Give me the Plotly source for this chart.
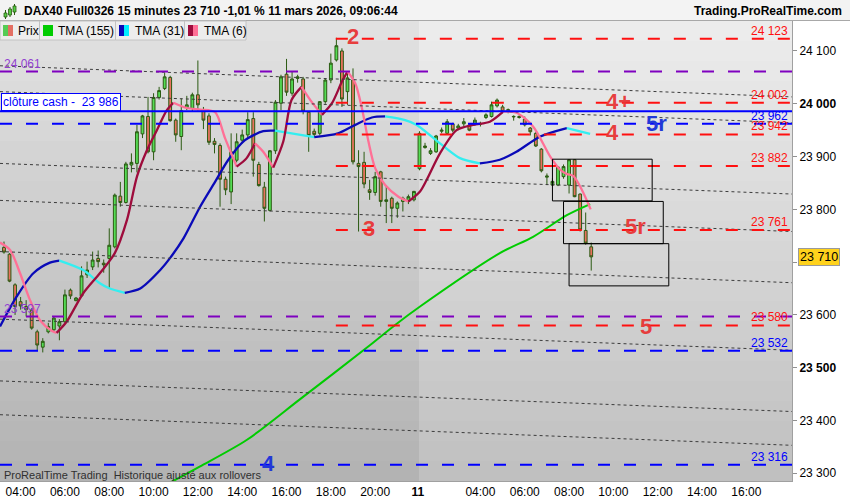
import plotly.graph_objects as go

# ---------------- data ----------------
bars = list(range(107))  # 15-minute bars, 10 Mar 03:15 .. 11 Mar 09:00
opens = [23728, 23715, 23657, 23625, 23616, 23609, 23568, 23539, 23568, 23572,
         23579, 23587, 23647, 23627, 23636, 23676, 23691, 23707, 23698, 23707,
         23729, 23825, 23813, 23884, 23887, 23943, 23976, 23909, 24012, 24029,
         24050, 23969, 23938, 23993, 23991, 24017, 23987, 23977, 23929, 23921,
         23857, 23833, 23893, 23931, 23941, 23972, 23885, 23842, 23798, 23911,
         24001, 24056, 24020, 24048, 24047, 23984, 23948, 23944, 24004, 24045,
         24083, 24100, 24023, 24045, 23887, 23889, 23837, 23832, 23871, 23815,
         23821, 23802, 23815, 23815, 23818, 23877, 23917, 23906, 23909, 23948,
         23944, 23962, 23954, 23962, 23960, 23963, 23962, 23974, 23976, 23996,
         23994, 23985, 23975, 23976, 23971, 23954, 23944, 23914, 23861, 23846,
         23846, 23862, 23846, 23894, 23829, 23760, 23729]
highs = [23739, 23717, 23660, 23634, 23628, 23613, 23572, 23556, 23585, 23598,
         23592, 23648, 23650, 23634, 23692, 23701, 23720, 23722, 23705, 23764,
         23830, 23852, 23890, 23906, 23960, 23979, 24013, 24020, 24032, 24059,
         24053, 23972, 24010, 24015, 24021, 24082, 23994, 23982, 23935, 23925,
         23862, 23944, 23944, 23951, 23984, 23984, 23890, 23852, 23912, 24007,
         24055, 24085, 24061, 24055, 24051, 23986, 23953, 24005, 24048, 24095,
         24125, 24105, 24061, 24067, 23912, 23909, 23856, 23871, 23873, 23846,
         23824, 23815, 23824, 23828, 23835, 23948, 23926, 23916, 23941, 23955,
         23971, 23964, 23962, 23973, 23963, 23974, 23966, 23982, 24004, 24010,
         23998, 23991, 23978, 23978, 23976, 23956, 23947, 23916, 23868, 23859,
         23882, 23885, 23895, 23895, 23830, 23794, 23737]
lows = [23716, 23662, 23600, 23610, 23597, 23572, 23532, 23529, 23565, 23568,
        23552, 23585, 23630, 23626, 23634, 23670, 23685, 23690, 23680, 23651,
        23726, 23805, 23811, 23870, 23870, 23935, 23906, 23893, 24008, 24026,
        23966, 23928, 23912, 23988, 23985, 23987, 23952, 23922, 23906, 23805,
        23827, 23810, 23889, 23925, 23936, 23862, 23843, 23777, 23796, 23905,
        23988, 24015, 24015, 24040, 23980, 23909, 23938, 23940, 24000, 24039,
        24080, 23994, 23998, 23885, 23758, 23840, 23818, 23826, 23805, 23774,
        23774, 23784, 23796, 23810, 23815, 23874, 23915, 23903, 23907, 23944,
        23943, 23946, 23950, 23957, 23948, 23958, 23957, 23971, 23974, 23993,
        23982, 23982, 23968, 23972, 23957, 23940, 23918, 23870, 23846, 23844,
        23844, 23858, 23830, 23823, 23758, 23733, 23684]
closes = [23719, 23664, 23616, 23617, 23610, 23575, 23543, 23550, 23578, 23594,
          23587, 23638, 23636, 23632, 23674, 23685, 23704, 23701, 23695, 23732,
          23827, 23813, 23886, 23889, 23947, 23977, 23909, 24012, 24025, 24051,
          23968, 23941, 23987, 23998, 24017, 23998, 23969, 23927, 23923, 23857,
          23837, 23909, 23928, 23941, 23970, 23893, 23845, 23802, 23911, 24003,
          24051, 24022, 24047, 24051, 23986, 23940, 23942, 24004, 24045, 24077,
          24110, 24009, 24049, 23890, 23881, 23848, 23832, 23862, 23815, 23818,
          23802, 23812, 23821, 23824, 23834, 23944, 23920, 23911, 23939, 23950,
          23966, 23950, 23958, 23966, 23950, 23969, 23962, 23979, 23998, 24007,
          23985, 23989, 23976, 23974, 23960, 23947, 23920, 23873, 23863, 23853,
          23880, 23881, 23894, 23824, 23761, 23736, 23710]

tma155_k = [30.3, 35.4, 43.8, 53.4, 66.1, 70.6, 75.1, 89.5, 95.5, 101.6, 105.8]
tma155_v = [23284, 23313, 23363, 23440, 23543, 23581, 23616, 23717, 23748, 23789, 23810]

tma31_k = [-0.72, 2.3, 5.3, 8.3, 10.0, 14.3, 17.3, 19.1, 21.8, 24.6, 28.2, 30.0, 32.4,
           35.4, 38.1, 40.5, 43.5, 46.8, 48.9, 51.9, 56.0, 60.3, 63.4, 66.4, 68.8,
           72.4, 74.5, 78.7, 82.3, 85.9, 89.5, 92.5, 96.8, 101.6, 105.8]
tma31_v = [23578, 23635, 23679, 23699, 23703, 23685, 23660, 23650, 23642, 23650, 23685,
           23708, 23745, 23805, 23852, 23894, 23931, 23948, 23949, 23944, 23937, 23944,
           23960, 23974, 23976, 23969, 23960, 23925, 23897, 23887, 23894, 23909, 23938,
           23954, 23943]

tma6_k = [-0.72, 1.1, 2.9, 4.7, 6.5, 8.6, 9.5, 11.3, 14.3, 17.3, 20.0, 22.2, 24.0, 25.8,
          27.6, 29.4, 30.6, 33.0, 35.5, 38.1, 39.9, 42.0, 43.8, 45.3, 46.8, 48.6, 50.4,
          51.9, 53.7, 55.5, 57.4, 59.2, 61.0, 62.0, 63.4, 64.6, 65.8, 67.0, 68.8, 71.2,
          73.0, 75.1, 76.3, 78.7, 81.7, 84.7, 87.7, 90.1, 92.5, 95.5, 98.6, 100.4, 101.6,
          102.8, 104.3, 105.9]
tma6_v = [23737, 23723, 23679, 23628, 23590, 23570, 23566, 23587, 23641, 23679, 23717,
          23780, 23862, 23912, 23950, 23988, 24002, 23992, 23989, 23984, 23935, 23881,
          23897, 23925, 23909, 23879, 23928, 24007, 24032, 24004, 23979, 24001, 24042,
          24061, 24039, 23992, 23928, 23878, 23846, 23824, 23815, 23834, 23856, 23906,
          23950, 23960, 23966, 23985, 23983, 23957, 23900, 23875, 23867, 23863, 23837,
          23800]

red_levels = [24123, 24002, 23942, 23882, 23761, 23580]
red_labels = ["24 123", "24 002", "23 942", "23 882", "23 761", "23 580"]
red_start_bar = 60
purple_levels = [24061, 23597]
purple_labels = ["24 061", "23 597"]
blue_levels = [23962, 23532, 23316]
blue_labels = ["23 962", "23 532", "23 316"]
cash_close = 23986
cash_label = "clôture cash -\u00a0\u00a023 986"

trend_left = [24072, 24023, 23887, 23817, 23720, 23592, 23475, 23411]
trend_right = [24013, 23964, 23829, 23758, 23661, 23533, 23417, 23353]

zone_k0 = [99, 101, 102]
zone_k1 = [117, 119, 120]
zone_lo = [23816, 23735, 23655]
zone_hi = [23895, 23815, 23735]

marks_text = ["2", "3", "4+", "4", "5r", "5r", "5", "4"]
marks_k = [63.0, 65.9, 111.0, 109.8, 117.8, 114.0, 115.9, 47.7]
marks_p = [24128, 23764, 24005, 23946, 23962, 23768, 23579, 23319]
marks_col = ["red", "red", "red", "red", "blue", "red", "red", "blue"]

time_k = [3, 11, 19, 27, 35, 43, 51, 59, 67, 74.7, 78, 86, 94, 102, 110, 118, 126, 134]
time_txt = ["04:00", "06:00", "08:00", "10:00", "12:00", "14:00", "16:00", "18:00",
            "20:00", "<b>11</b>", "", "04:00", "06:00", "08:00", "10:00", "12:00",
            "14:00", "16:00"]
price_ticks = [23300, 23400, 23500, 23600, 23700, 23800, 23900, 24000, 24100]
price_txt = ["23 300", "23 400", "<b>23 500</b>", "23 600", "", "23 800", "23 900",
             "<b>24 000</b>", "24 100"]
last_price = 23710
title_txt = "DAX40 Full0326 15 minutes 23 710 -1,01 % 11 mars 2026, 09:06:44"

# ---------------- layout geometry ----------------
W, H = 850, 500
ML, MR, MT, MB = 0, 58, 21, 19
PW, PH = W - ML - MR, H - MT - MB
X0, X1 = -0.72, 142.24
Y0, Y1 = 23285.4, 24156.8
FONT = "Liberation Sans, Arial, sans-serif"


def pxx(x):
    return (x - ML) / PW


def pyy(y):
    return (MT + PH - y) / PH


RED = "#ff1010"
BLUE = "#0000ff"
PURPLE = "#7f00bf"
MARK_RED = "rgba(232,52,52,0.95)"
MARK_BLUE = "#2238d8"

fig = go.Figure()

# candles
fig.add_trace(go.Candlestick(
    x=bars, open=opens, high=highs, low=lows, close=closes,
    increasing=dict(line=dict(color="#2b5a12", width=1), fillcolor="#55dd55"),
    decreasing=dict(line=dict(color="#2b5a12", width=1), fillcolor="#e8735f"),
    whiskerwidth=0, hoverinfo="skip", showlegend=False))


def add_colored(ks, vs, up_col, dn_col, width):
    runs = []
    cx, cy, cu = [ks[0]], [vs[0]], None
    for i in range(1, len(ks)):
        up = vs[i] >= vs[i - 1]
        if cu is None or up == cu:
            cx.append(ks[i]); cy.append(vs[i]); cu = up
        else:
            runs.append((cu, cx, cy))
            cx, cy, cu = [ks[i - 1], ks[i]], [vs[i - 1], vs[i]], up
    runs.append((cu, cx, cy))
    for up, xs, ys in runs:
        fig.add_trace(go.Scatter(x=xs, y=ys, mode="lines",
                                 line=dict(color=up_col if up else dn_col, width=width,
                                           shape="spline", smoothing=0.8),
                                 hoverinfo="skip", showlegend=False))


fig.add_trace(go.Scatter(x=tma155_k, y=tma155_v, mode="lines",
                         line=dict(color="#00cc00", width=2, shape="spline", smoothing=0.8),
                         hoverinfo="skip", showlegend=False))
add_colored(tma31_k, tma31_v, "#0a0ab8", "#33eef0", 2.3)
add_colored(tma6_k, tma6_v, "#9e0c3c", "#ff7096", 2.3)

# trend lines
for a, b in zip(trend_left, trend_right):
    fig.add_trace(go.Scatter(x=[X0, X1], y=[a, b], mode="lines",
                             line=dict(color="#3c3c3c", width=1, dash="3px,3px"),
                             hoverinfo="skip", showlegend=False))

# horizontal levels
for lv in purple_levels:
    fig.add_trace(go.Scatter(x=[X0, X1], y=[lv, lv], mode="lines",
                             line=dict(color=PURPLE, width=2, dash="12px,14px"),
                             hoverinfo="skip", showlegend=False))
for lv in red_levels:
    fig.add_trace(go.Scatter(x=[red_start_bar - 0.1, X1], y=[lv, lv], mode="lines",
                             line=dict(color=RED, width=2, dash="12px,14px"),
                             hoverinfo="skip", showlegend=False))
for lv in blue_levels:
    fig.add_trace(go.Scatter(x=[X0, X1], y=[lv, lv], mode="lines",
                             line=dict(color=BLUE, width=2, dash="12px,14px"),
                             hoverinfo="skip", showlegend=False))
fig.add_trace(go.Scatter(x=[X0, X1], y=[cash_close, cash_close], mode="lines",
                         line=dict(color=BLUE, width=2),
                         hoverinfo="skip", showlegend=False))

shapes = []
# background gradient bands
n = 23
split_px = 419
for i in range(n):
    ya, yb = MT + i * 20, MT + (i + 1) * 20
    t = (i + 0.5) / n
    cl = round(226 + (178 - 226) * t)
    cr = round(237 + (191 - 237) * t)
    shapes.append(dict(type="rect", xref="paper", yref="paper", layer="below",
                       x0=0, x1=pxx(split_px), y0=pyy(yb), y1=pyy(ya),
                       fillcolor=f"rgb({cl},{cl},{cl})", line=dict(width=0)))
    shapes.append(dict(type="rect", xref="paper", yref="paper", layer="below",
                       x0=pxx(split_px), x1=1, y0=pyy(yb), y1=pyy(ya),
                       fillcolor=f"rgb({cr},{cr},{cr})", line=dict(width=0)))

# zone rectangles
for a, b, lo, hi in zip(zone_k0, zone_k1, zone_lo, zone_hi):
    shapes.append(dict(type="rect", xref="x", yref="y", x0=a, x1=b, y0=lo, y1=hi,
                       line=dict(color="black", width=1), fillcolor="rgba(0,0,0,0)",
                       layer="above"))

# title bar
shapes.append(dict(type="rect", xref="paper", yref="paper", x0=pxx(0), x1=pxx(W),
                   y0=pyy(20.5), y1=pyy(0), fillcolor="#f3f3f3", line=dict(width=0)))
shapes.append(dict(type="line", xref="paper", yref="paper", x0=pxx(0), x1=pxx(W),
                   y0=pyy(20.5), y1=pyy(20.5), line=dict(color="#a8a8a8", width=1)))
# title icon
for (xa, xb, wa, wb, ba, bb) in [(4, 7, 10, 19, 13, 17), (8.5, 11.5, 7, 17, 9, 15), (13, 16, 4, 15, 6, 12)]:
    shapes.append(dict(type="line", xref="paper", yref="paper", x0=pxx((xa + xb) / 2),
                       x1=pxx((xa + xb) / 2), y0=pyy(wb), y1=pyy(wa),
                       line=dict(color="#2b5a12", width=1)))
    shapes.append(dict(type="rect", xref="paper", yref="paper", x0=pxx(xa), x1=pxx(xb),
                       y0=pyy(bb), y1=pyy(ba), fillcolor="#55cc44",
                       line=dict(color="#2b5a12", width=0.8)))

# legend boxes
legend_boxes = [(0, 39.5), (39.5, 115.5), (115.5, 184.5), (184.5, 246)]
for a, b in legend_boxes:
    shapes.append(dict(type="rect", xref="paper", yref="paper", x0=pxx(a), x1=pxx(b),
                       y0=pyy(40), y1=pyy(21), fillcolor="#ededed",
                       line=dict(color="#c2c2c2", width=1)))
swatches = [(3, 8, "#55cc55"), (8, 13, "#e46f63"), (43, 53, "#00cc00"),
            (119, 124, "#0a0ab8"), (124, 129, "#00eeff"),
            (188, 193, "#9e0c3c"), (193, 198, "#ff6f96")]
for a, b, c in swatches:
    shapes.append(dict(type="rect", xref="paper", yref="paper", x0=pxx(a), x1=pxx(b),
                       y0=pyy(36), y1=pyy(25), fillcolor=c, line=dict(width=0)))

# small tick marks under the time axis
for k in time_k:
    pass

annotations = []
annotations.append(dict(xref="paper", yref="paper", x=pxx(22), y=pyy(11), xanchor="left",
                        yanchor="middle", showarrow=False, text="<b>" + title_txt + "</b>",
                        font=dict(family=FONT, size=12, color="black")))
annotations.append(dict(xref="paper", yref="paper", x=pxx(844), y=pyy(11), xanchor="right",
                        yanchor="middle", showarrow=False, text="<b>Trading.ProRealTime.com</b>",
                        font=dict(family=FONT, size=12, color="black")))
for xx, t in [(16, "Prix"), (56, "TMA (155)"), (133, "TMA (31)"), (202, "TMA (6)")]:
    annotations.append(dict(xref="paper", yref="paper", x=pxx(xx), y=pyy(30.5),
                            xanchor="left", yanchor="middle", showarrow=False, text=t,
                            font=dict(family=FONT, size=12, color="black")))

# right-hand level labels
for lv, t in zip(red_levels, red_labels):
    annotations.append(dict(xref="paper", yref="y", x=pxx(790), y=lv, xanchor="right",
                            yanchor="middle", yshift=8, showarrow=False, text=t,
                            font=dict(family=FONT, size=12, color=RED)))
for lv, t in zip(blue_levels, blue_labels):
    annotations.append(dict(xref="paper", yref="y", x=pxx(790), y=lv, xanchor="right",
                            yanchor="middle", yshift=8, showarrow=False, text=t,
                            font=dict(family=FONT, size=12, color=BLUE)))
for lv, t in zip(purple_levels, purple_labels):
    annotations.append(dict(xref="paper", yref="y", x=pxx(2), y=lv, xanchor="left",
                            yanchor="middle", yshift=8, showarrow=False, text=t,
                            font=dict(family=FONT, size=12, color="#9140d0")))

annotations.append(dict(xref="paper", yref="y", x=pxx(1), y=cash_close, xanchor="left",
                        yanchor="bottom", yshift=0, showarrow=False, text=cash_label,
                        bgcolor="white", bordercolor=BLUE, borderwidth=1, borderpad=1,
                        font=dict(family=FONT, size=12, color=BLUE)))

for t, k, p, c in zip(marks_text, marks_k, marks_p, marks_col):
    annotations.append(dict(xref="x", yref="y", x=k, y=p, xanchor="center",
                            yanchor="middle", showarrow=False, text="<b>" + t + "</b>",
                            font=dict(family=FONT, size=22,
                                      color=MARK_RED if c == "red" else MARK_BLUE)))

annotations.append(dict(xref="paper", yref="paper", x=pxx(2), y=pyy(475), xanchor="left",
                        yanchor="middle", showarrow=False,
                        text="ProRealTime Trading\u00a0 Historique ajusté aux rollovers",
                        font=dict(family=FONT, size=11, color="#303030")))

annotations.append(dict(xref="paper", yref="y", x=pxx(797.5), y=last_price, xanchor="left",
                        yanchor="middle", showarrow=False, text=f"{last_price:,}".replace(",", " "),
                        bgcolor="#ffd21c", bordercolor="#9a9a9a", borderwidth=1, borderpad=1,
                        font=dict(family=FONT, size=12.5, color="black")))

fig.update_layout(
    width=W, height=H,
    margin=dict(l=ML, r=MR, t=MT, b=MB, pad=0, autoexpand=False),
    paper_bgcolor="white", plot_bgcolor="#d0d0d0",
    showlegend=False,
    shapes=shapes, annotations=annotations,
    boxgap=0.28,
    xaxis=dict(range=[X0, X1], tickmode="array", tickvals=time_k, ticktext=time_txt,
               showgrid=False, zeroline=False, ticks="", ticklen=0,
               showline=True, linecolor="#a0a0a0", linewidth=1,
               tickfont=dict(family=FONT, size=12, color="black"),
               rangeslider=dict(visible=False), fixedrange=True, automargin=False),
    yaxis=dict(range=[Y0, Y1], side="right", tickmode="array", tickvals=price_ticks,
               ticktext=price_txt, showgrid=False, zeroline=False, ticks="outside",
               ticklen=4, tickcolor="#909090", showline=True, linecolor="#a0a0a0",
               linewidth=1, tickfont=dict(family=FONT, size=12, color="black"),
               fixedrange=True, automargin=False),
)

fig.write_html("out.html", config={"displayModeBar": False},
               post_script="document.body.style.margin='0';document.body.style.padding='0';")
